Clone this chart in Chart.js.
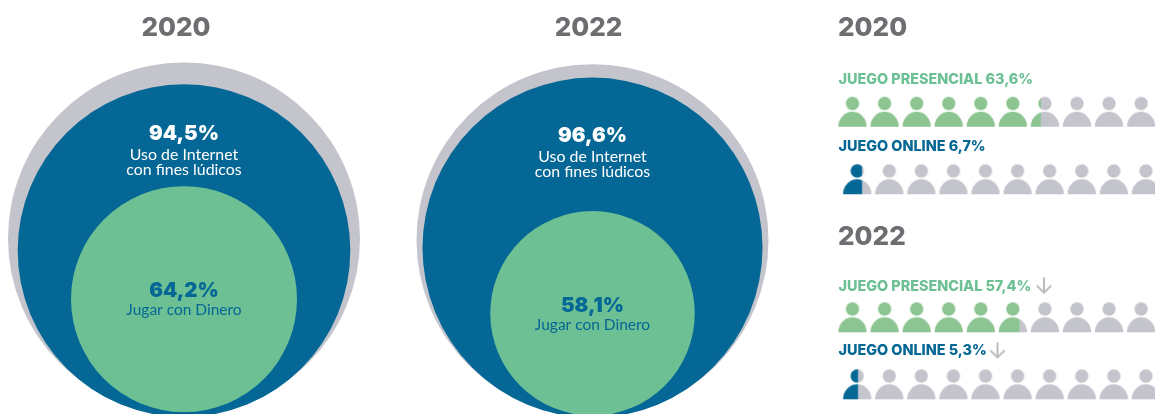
<!DOCTYPE html>
<html lang="es">
<head>
<meta charset="utf-8">
<title>Juego online y presencial</title>
<script src="https://cdn.jsdelivr.net/npm/chart.js@4"></script>
<style>
  html, body { margin: 0; padding: 0; background: #fff; overflow: hidden; }
  #page { position: relative; width: 1155px; height: 414px; }
  canvas { position: absolute; top: 0; }
  #circles { left: 0; }
  #people { left: 830px; }
</style>
</head>
<body>
<div id="page">
  <canvas id="circles" width="800" height="414"></canvas>
  <canvas id="people" width="325" height="414"></canvas>
</div>
<script>
// Survey results, in percent
const years = ["2020", "2022"];
const population = [100, 100];
const internetUse = [94.5, 96.6];
const moneyPlay = [64.2, 58.1];
const inPerson = [63.6, 57.4];
const online = [6.7, 5.3];

const BLUE = "#056795";
const GREEN = "#6cc094";
const PERSON_GREEN = "#8cc492";
const GREY = "#c4c4cd";
const TITLE = "#6d6e71";
const ARROW = "#b8b8bb";
const HEAVY = '"Inter"';
const BODY = '"Lato"';

const pct = v => v.toFixed(1).replace(".", ",") + "%";

// Text helper shared by both charts
function drawTexts(ctx, items) {
  ctx.save();
  ctx.textBaseline = "alphabetic";
  for (const t of items) {
    ctx.font = t.font;
    ctx.fillStyle = t.color;
    ctx.textAlign = t.align || "center";
    ctx.fillText(t.text, t.x, t.y);
  }
  ctx.restore();
}

// ---- Nested circles: radius is proportional to the percentage ----
const PX_PER_POINT = 1.76;
const PANEL_GAP = 408.5;
const FIRST_CENTER = 184;
const ringDrop = {
  population: [0.6, 2.4],
  internet: [3.2, 3.9],
  money: [-1.3, 2.3]
};
const BASE_PX = 415.3;

function ring(values, color, order, drop) {
  return {
    backgroundColor: color,
    borderWidth: 0,
    hoverBorderWidth: 0,
    order,
    clip: false,
    data: values.map((v, i) => ({
      x: i,
      y: v - drop[i] / PX_PER_POINT,
      r: v * PX_PER_POINT
    }))
  };
}

const circleLabels = {
  id: "circleLabels",
  afterDatasetsDraw(chart) {
    const { ctx, scales: { x } } = chart;
    const textRows = [
      { big: 140, a: 159.5, b: 174.5, green: 296.7, sub: 315 },
      { big: 142, a: 161.5, b: 176.5, green: 311.7, sub: 330 }
    ];
    const items = [];
    years.forEach((year, i) => {
      const cx = x.getPixelForValue(i);
      const r = textRows[i];
      items.push({ text: year, x: cx - 8 + (i ? 4 : 0), y: 36, font: `800 26px ${HEAVY}`, color: TITLE });
      items.push({ text: pct(internetUse[i]), x: cx, y: r.big, font: `900 20.4px ${HEAVY}`, color: "#fff" });
      items.push({ text: "Uso de Internet", x: cx, y: r.a, font: `400 15.9px ${BODY}`, color: "#fff" });
      items.push({ text: "con fines lúdicos", x: cx, y: r.b, font: `400 15.9px ${BODY}`, color: "#fff" });
      items.push({ text: pct(moneyPlay[i]), x: cx, y: r.green, font: `900 20.4px ${HEAVY}`, color: BLUE });
      items.push({ text: "Jugar con Dinero", x: cx, y: r.sub, font: `400 15.5px ${BODY}`, color: BLUE });
    });
    drawTexts(ctx, items);
  }
};

new Chart(document.getElementById("circles"), {
  type: "bubble",
  data: {
    datasets: [
      ring(moneyPlay, GREEN, 1, ringDrop.money),
      ring(internetUse, BLUE, 2, ringDrop.internet),
      ring(population, GREY, 3, ringDrop.population)
    ]
  },
  options: {
    responsive: false,
    animation: false,
    events: [],
    layout: { padding: 0, autoPadding: false },
    plugins: { legend: { display: false }, tooltip: { enabled: false } },
    scales: {
      x: { type: "linear", display: false, min: -FIRST_CENTER / PANEL_GAP, max: (800 - FIRST_CENTER) / PANEL_GAP },
      y: { type: "linear", display: false, min: (BASE_PX - 414) / -PX_PER_POINT, max: BASE_PX / PX_PER_POINT }
    }
  },
  plugins: [circleLabels]
});

// ---- Pictograms: ten people per row, one person stands for ten percent ----
const PERSON_W = 30;
const PERSON_H = 32;

function personIcon(fraction, color) {
  const c = document.createElement("canvas");
  c.width = PERSON_W;
  c.height = PERSON_H;
  const g = c.getContext("2d");
  const shape = fill => {
    g.fillStyle = fill;
    g.beginPath();
    g.arc(15, 7.7, 6.7, 0, Math.PI * 2);
    g.fill();
    g.beginPath();
    g.ellipse(15, 31, 14.25, 15, 0, Math.PI, 0);
    g.closePath();
    g.fill();
  };
  shape(GREY);
  if (fraction > 0) {
    g.save();
    g.beginPath();
    g.rect(0.75, 0, 28.5 * Math.min(fraction, 1), PERSON_H);
    g.clip();
    g.clearRect(0, 0, PERSON_W, PERSON_H);
    shape(color);
    g.restore();
  }
  return c;
}

function arrowIcon() {
  const c = document.createElement("canvas");
  c.width = 18;
  c.height = 18;
  const g = c.getContext("2d");
  g.strokeStyle = ARROW;
  g.lineWidth = 1.9;
  g.beginPath();
  g.moveTo(9, 0.5);
  g.lineTo(9, 16);
  g.moveTo(1.8, 8.8);
  g.lineTo(9, 16);
  g.lineTo(16.2, 8.8);
  g.stroke();
  return c;
}

const ICON_STEP = 32.07;
const ICON_START = 22.5;
const ONLINE_SHIFT = 0.147;
const rowCentres = [[111.7, 179.2], [317.3, 384.3]];
const labelLines = [[84.3, 150.7], [290.5, 355]];
const yearLines = [36, 245];

function personRow(value, color, y, shift) {
  const indices = [...Array(10).keys()];
  return {
    showLine: false,
    pointStyle: indices.map(i => personIcon((value - i * 10) / 10, color)),
    pointRadius: 15,
    data: indices.map(i => ({ x: i + shift, y }))
  };
}

const rows = [];
years.forEach((_, i) => {
  rows.push(personRow(inPerson[i], PERSON_GREEN, rowCentres[i][0], 0));
  rows.push(personRow(online[i], BLUE, rowCentres[i][1], ONLINE_SHIFT));
});

// Falling figures get a small arrow after their label
const arrowMarks = [
  { x: (1044 - 830 - ICON_START) / ICON_STEP, y: 285.7 },
  { x: (997.5 - 830 - ICON_START) / ICON_STEP, y: 350.5 }
];
rows.push({ showLine: false, pointStyle: arrowIcon(), pointRadius: 9, data: arrowMarks });

const peopleLabels = {
  id: "peopleLabels",
  afterDatasetsDraw(chart) {
    const items = [];
    years.forEach((year, i) => {
      items.push({ text: year, x: 8, y: yearLines[i], align: "left", font: `800 26px ${HEAVY}`, color: TITLE });
      items.push({ text: "JUEGO PRESENCIAL " + pct(inPerson[i]), x: 8.5, y: labelLines[i][0], align: "left", font: `800 14.4px ${HEAVY}`, color: GREEN });
      items.push({ text: "JUEGO ONLINE " + pct(online[i]), x: 8.5, y: labelLines[i][1], align: "left", font: `800 14.4px ${HEAVY}`, color: BLUE });
    });
    drawTexts(chart.ctx, items);
  }
};

new Chart(document.getElementById("people"), {
  type: "scatter",
  data: { datasets: rows },
  options: {
    responsive: false,
    animation: false,
    events: [],
    layout: { padding: 0, autoPadding: false },
    plugins: { legend: { display: false }, tooltip: { enabled: false } },
    scales: {
      x: { type: "linear", display: false, min: -ICON_START / ICON_STEP, max: (325 - ICON_START) / ICON_STEP },
      y: { type: "linear", display: false, reverse: true, min: 0, max: 414 }
    }
  },
  plugins: [peopleLabels]
});
</script>
</body>
</html>
